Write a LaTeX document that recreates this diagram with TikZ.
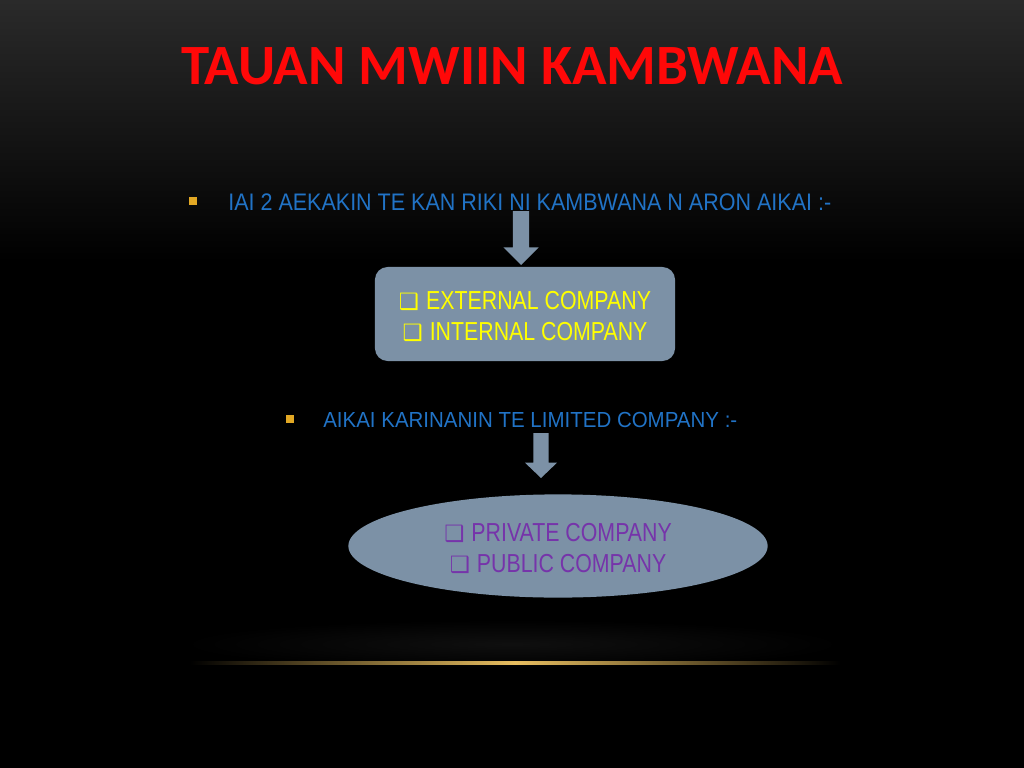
\documentclass[tikz,border=0pt]{standalone}
\usepackage{fontspec}
\setmainfont{Liberation Sans}[FakeStretch=0.82]
\newfontfamily\leadfont{Liberation Sans}[FakeStretch=0.90]
\newfontfamily\leadfontb{Liberation Sans}[FakeStretch=0.94]
\newfontfamily\titlefont{Carlito}
\newfontfamily\symfont{DejaVu Sans}
\usetikzlibrary{shapes.geometric, calc}
\definecolor{mRed}{RGB}{255,8,8}
\definecolor{mBlue}{RGB}{33,115,198}
\definecolor{mGold}{RGB}{226,168,36}
\definecolor{mSteel}{RGB}{124,145,166}
\definecolor{mYellow}{RGB}{255,255,0}
\definecolor{mPurple}{RGB}{118,52,170}
\definecolor{mTop}{RGB}{42,42,42}
\definecolor{mLine}{RGB}{232,190,96}
\newcommand{\boxmark}{{\symfont\fontsize{16}{16}\selectfont\char"2751}\hspace{5pt}}

% vertical block arrow from #1 down to #2: shaft half width #3, head half width #4, head length #5
\newcommand{\downblock}[5]{%
  \fill[mSteel] let \p1=(#1), \p2=(#2) in
    (\x1-#3,\y1) -- (\x1+#3,\y1) -- (\x1+#3,\y2+#5) -- (\x1+#4,\y2+#5)
    -- (\x2,\y2) -- (\x1-#4,\y2+#5) -- (\x1-#3,\y2+#5) -- cycle;}

\begin{document}
\begin{tikzpicture}[x=0.025cm, y=-0.025cm]
  \tikzstyle{bullet}=[fill=mGold, minimum size=5pt, inner sep=0pt]
  \tikzstyle{lead}=[text=mBlue, anchor=west, inner sep=0pt]
  \tikzstyle{item}=[align=center, inner sep=0pt, font=\fontsize{18.5}{22}\selectfont]

  % background
  \useasboundingbox (0,0) rectangle (1024,768);
  \shade[top color=mTop, bottom color=black] (0,0) rectangle (1024,262);
  \fill[black] (0,261) rectangle (1024,768);
  \shade[inner color=black!94!white, outer color=black] (512,644) ellipse (330 and 24);

  % title
  \node[text=mRed, font=\titlefont\bfseries\fontsize{40.5}{44}\selectfont] (title) at (512,66) {TAUAN MWIIN KAMBWANA};

  % first point
  \node[bullet] (b1) at (193,201) {};
  \node[lead, font=\leadfont\fontsize{17}{20}\selectfont] (lead1) at (228,202) {IAI 2 AEKAKIN TE KAN RIKI NI KAMBWANA N ARON AIKAI :-};
  \coordinate (a1top) at (521,211);
  \coordinate (a1tip) at (521,265);
  \downblock{a1top}{a1tip}{5.7pt}{12.5pt}{12.5pt}
  \node[draw=none, fill=mSteel, rounded corners=9pt, minimum width=7.5cm, minimum height=2.35cm]
    (kinds) at (525,314) {};
  \node[item, text=mYellow] at ($(kinds)+(0,2)$) {\boxmark EXTERNAL COMPANY\\ \boxmark INTERNAL COMPANY};

  % second point
  \node[bullet] (b2) at (290,419) {};
  \node[lead, font=\leadfontb\fontsize{15.5}{18}\selectfont] (lead2) at (323,420) {AIKAI KARINANIN TE LIMITED COMPANY :-};
  \coordinate (a2top) at (541,433);
  \coordinate (a2tip) at (541,478);
  \downblock{a2top}{a2tip}{5.4pt}{11.5pt}{11pt}
  \node[ellipse, fill=mSteel, minimum width=10.48cm, minimum height=2.58cm] (limited) at (558,546) {};
  \node[item, text=mPurple] at ($(limited)+(0,2)$) {\boxmark PRIVATE COMPANY\\ \boxmark PUBLIC COMPANY};

  % gold rule
  \shade[left color=black, right color=black, middle color=mLine] (190,661.8) rectangle (840,664.6);
\end{tikzpicture}
\end{document}
